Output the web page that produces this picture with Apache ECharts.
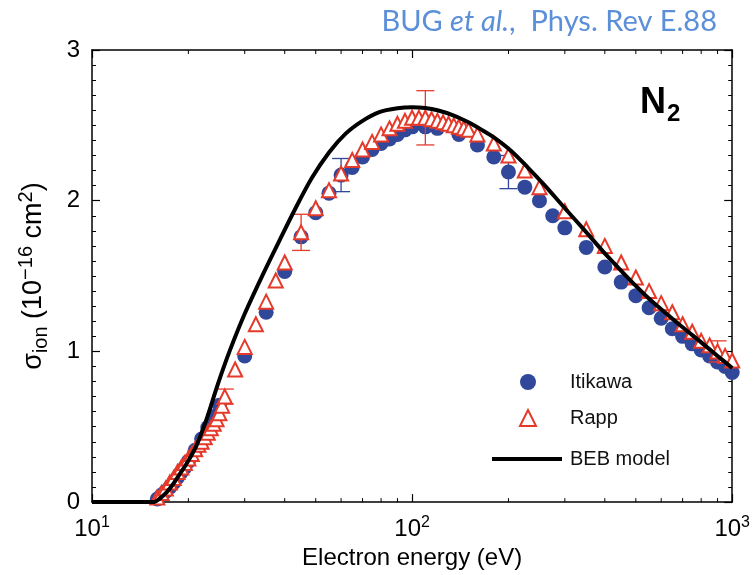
<!DOCTYPE html>
<html>
<head>
<meta charset="utf-8">
<script src="https://cdn.jsdelivr.net/npm/echarts@6/dist/echarts.min.js"></script>
<style>
html,body{margin:0;padding:0;background:#fff;}
#c{width:753px;height:575px;}
</style>
</head>
<body>
<div id="c"></div>
<script>
// ---------- data ----------
var itikawaE = [16,16.5,17,17.5,18,18.5,19,19.5,20,21,22,23,24,25,30,35,40,45,50,55,60,65,70,75,80,85,90,95,100,110,120,140,160,180,200,225,250,275,300,350,400,450,500,550,600,650,700,750,800,850,900,950,1000];
var itikawaV = [0.021,0.047,0.071,0.099,0.129,0.164,0.199,0.230,0.270,0.344,0.418,0.494,0.568,0.643,0.97,1.26,1.53,1.76,1.92,2.05,2.17,2.22,2.29,2.34,2.38,2.41,2.44,2.47,2.49,2.49,2.48,2.44,2.37,2.29,2.19,2.09,2.00,1.90,1.82,1.69,1.56,1.46,1.37,1.29,1.22,1.15,1.10,1.05,1.01,0.97,0.93,0.90,0.86];

var rappE = [16,16.5,17,17.5,18,18.5,19,19.5,20,20.5,21,21.5,22,22.5,23,23.5,24,24.5,25,25.5,26,28,30,32.5,35,37.5,40,45,50,55,60,65,70,75,80,85,90,95,100,105,110,115,120,125,130,135,140,145,150,160,180,200,225,250,300,350,400,450,500,550,600,650,700,750,800,850,900,950,1000];
var rappV = [0.03,0.06,0.09,0.13,0.16,0.20,0.23,0.26,0.29,0.32,0.35,0.38,0.40,0.43,0.46,0.49,0.52,0.55,0.59,0.64,0.70,0.88,1.03,1.18,1.33,1.47,1.59,1.79,1.95,2.07,2.18,2.27,2.34,2.39,2.44,2.48,2.51,2.53,2.55,2.55,2.55,2.54,2.53,2.52,2.51,2.50,2.49,2.48,2.47,2.44,2.38,2.30,2.20,2.09,1.93,1.81,1.70,1.59,1.49,1.40,1.32,1.26,1.18,1.13,1.07,1.04,1.00,0.97,0.94];

var bebE = [10,15.6,16.2,17.1,18,19.2,20,21.2,22.8,24.7,27,30,34,38.4,43,48.6,55,62,70,79,90,100,110,120,135,150,165,180,204,230,260,300,347,400,450,500,550,600,700,800,900,1000];
var bebV = [0,0,0.02,0.065,0.125,0.215,0.275,0.375,0.55,0.78,1.01,1.25,1.50,1.73,1.94,2.15,2.32,2.445,2.53,2.588,2.613,2.62,2.615,2.60,2.565,2.52,2.47,2.42,2.33,2.22,2.10,1.95,1.80,1.65,1.535,1.435,1.35,1.28,1.16,1.06,0.97,0.89];

// error bars: energy, value, half-width
var itikawaErrE = [60,200];
var itikawaErrV = [2.17,2.19];
var itikawaErrD = [0.11,0.11];
var rappErrE = [26,45,110,900];
var rappErrV = [0.70,1.79,2.55,1.00];
var rappErrD = [0.05,0.12,0.18,0.07];

var xMajorTicks = [10,100,1000];
var xMajorExp = ['1','2','3'];
var xMinorTicks = [20,30,40,50,60,70,80,90,200,300,400,500,600,700,800,900];
var yTicks = [0,1,2,3];

// ---------- build ----------
function zip(a,b){return a.map(function(v,i){return [v,b[i]];});}
function errData(e,v,d){return e.map(function(x,i){return [x,v[i]-d[i],v[i]+d[i]];});}

var BLUE = '#30479a', RED = '#e53a2a';
var FONT = '"Liberation Sans", Arial, Helvetica, sans-serif';

function errRender(color){
  return function(params, api){
    var lo = api.coord([api.value(0), api.value(1)]);
    var hi = api.coord([api.value(0), api.value(2)]);
    var w = 9;
    var st = {stroke: color, lineWidth: 1.3};
    return {type:'group', children:[
      {type:'line', shape:{x1:lo[0],y1:lo[1],x2:hi[0],y2:hi[1]}, style:st},
      {type:'line', shape:{x1:lo[0]-w,y1:lo[1],x2:lo[0]+w,y2:lo[1]}, style:st},
      {type:'line', shape:{x1:hi[0]-w,y1:hi[1],x2:hi[0]+w,y2:hi[1]}, style:st}
    ]};
  };
}

var labelMap = {};
xMajorTicks.forEach(function(v,i){labelMap[v]=xMajorExp[i];});

var legendText = {fontFamily:FONT, fontSize:20, color:'#111'};

var chart = echarts.init(document.getElementById('c'), null, {renderer:'canvas'});
var axisLineStyle = {color:'#000', width:1.5};
var option = {
  animation:false,
  backgroundColor:'#fff',
  title:{
    text:'{n|BUG }{i|et al.}{n|,  Phys. Rev E.88}',
    right:31, top:2,
    textStyle:{fontWeight:'normal', rich:{
      n:{fontFamily:'Lato, "Open Sans", sans-serif', fontSize:29, fontWeight:'normal', color:'#5b8fd8'},
      i:{fontFamily:'Lato, "Open Sans", sans-serif', fontSize:29, fontWeight:'normal', color:'#5b8fd8', fontStyle:'italic'}
    }}
  },
  graphic:[{
    type:'text', left:640, top:85,
    style:{text:'{n|N}{s|2}', rich:{
      n:{fontFamily:FONT, fontSize:36, fontWeight:'bold', fill:'#000'},
      s:{fontFamily:FONT, fontSize:24, fontWeight:'bold', fill:'#000', padding:[22,0,0,1]}
    }}
  }],
  grid:{left:92, right:18, top:50, bottom:72},
  legend:[{
    orient:'vertical', left:519, top:372, padding:0,
    itemWidth:16, itemHeight:16, itemGap:16,
    data:['Itikawa','Rapp'],
    textStyle:Object.assign({padding:[0,0,0,29]}, legendText)
  },{
    orient:'vertical', left:492, top:449, padding:0,
    itemWidth:70, itemHeight:4,
    data:[{name:'BEB model', icon:'rect'}],
    textStyle:Object.assign({padding:[0,0,0,3]}, legendText)
  }],
  xAxis:[{
    type:'log', logBase:10, min:10, max:1000, position:'bottom',
    axisLine:{onZero:false, lineStyle:axisLineStyle},
    axisTick:{inside:true, length:8, lineStyle:{color:'#000', width:1.2}},
    splitLine:{show:false},
    axisLabel:{margin:12, color:'#000', fontFamily:FONT,
      formatter:function(v){ var e = labelMap[Math.round(v)]; return e ? '{b|10}{s|'+e+'}' : ''; },
      rich:{b:{fontSize:24, fontFamily:FONT, color:'#000'}, s:{fontSize:16, fontFamily:FONT, color:'#000', padding:[0,0,14,0]}}
    },
    name:'Electron energy (eV)', nameLocation:'middle', nameGap:40,
    nameTextStyle:{fontFamily:FONT, fontSize:24, color:'#000'}
  },{
    type:'log', logBase:10, min:10, max:1000, position:'top',
    axisLine:{onZero:false, lineStyle:axisLineStyle},
    axisTick:{inside:true, length:8, lineStyle:{color:'#000', width:1.2}},
    axisLabel:{show:false}, splitLine:{show:false}
  }],
  yAxis:[{
    type:'value', min:0, max:3, interval:1, position:'left',
    axisLine:{show:true, onZero:false, lineStyle:axisLineStyle},
    axisTick:{show:true, inside:true, length:8, lineStyle:{color:'#000', width:1.2}},
    minorTick:{show:true, splitNumber:10, length:4, lineStyle:{color:'#000', width:1}},
    splitLine:{show:false},
    axisLabel:{margin:12, color:'#000', fontFamily:FONT, fontSize:24,
      formatter:function(v){ return yTicks.indexOf(v)>=0 ? String(v) : ''; }},
    name:'{a|σ}{s|ion}{a| (10}{p|−16}{a| cm}{p|2}{a|)}',
    nameLocation:'middle', nameGap:40, nameRotate:90,
    nameTextStyle:{rich:{
      a:{fontFamily:FONT, fontSize:27, color:'#000'},
      s:{fontFamily:FONT, fontSize:20, color:'#000', padding:[15,0,0,0]},
      p:{fontFamily:FONT, fontSize:20, color:'#000', padding:[0,0,16,0]}
    }}
  },{
    type:'value', min:0, max:3, interval:1, position:'right',
    axisLine:{show:true, onZero:false, lineStyle:axisLineStyle},
    axisTick:{show:true, inside:true, length:8, lineStyle:{color:'#000', width:1.2}},
    minorTick:{show:true, splitNumber:10, length:4, lineStyle:{color:'#000', width:1}},
    splitLine:{show:false}, axisLabel:{show:false}
  }],
  series:[
    {
      name:'minorX', type:'custom', silent:true, z:10, clip:false,
      data:xMinorTicks.map(function(v){return [v];}),
      encode:{x:0},
      renderItem:function(params, api){
        var b = api.coord([api.value(0), 0]);
        var t = api.coord([api.value(0), 3]);
        var st = {stroke:'#000', lineWidth:1};
        return {type:'group', children:[
          {type:'line', shape:{x1:b[0],y1:b[1],x2:b[0],y2:b[1]-4}, style:st},
          {type:'line', shape:{x1:t[0],y1:t[1],x2:t[0],y2:t[1]+4}, style:st}
        ]};
      }
    },
    {
      name:'ItikawaErr', type:'custom', silent:true, z:2,
      data:errData(itikawaErrE, itikawaErrV, itikawaErrD),
      encode:{x:0, y:[1,2]},
      renderItem:errRender(BLUE)
    },
    {
      name:'Itikawa', type:'scatter', z:3,
      data:zip(itikawaE, itikawaV),
      symbol:'circle', symbolSize:15,
      itemStyle:{color:BLUE, opacity:1}
    },
    {
      name:'RappErr', type:'custom', silent:true, z:4,
      data:errData(rappErrE, rappErrV, rappErrD),
      encode:{x:0, y:[1,2]},
      renderItem:errRender(RED)
    },
    {
      name:'Rapp', type:'scatter', z:5,
      data:zip(rappE, rappV),
      symbol:'triangle', symbolSize:14,
      itemStyle:{color:'#fff', borderColor:RED, borderWidth:2, opacity:1}
    },
    {
      name:'BEB model', type:'line', z:6,
      data:zip(bebE, bebV),
      symbol:'none', smooth:0.3,
      lineStyle:{color:'#000', width:4},
      itemStyle:{color:'#000'}
    }
  ]
};
chart.setOption(option);
</script>
</body>
</html>
